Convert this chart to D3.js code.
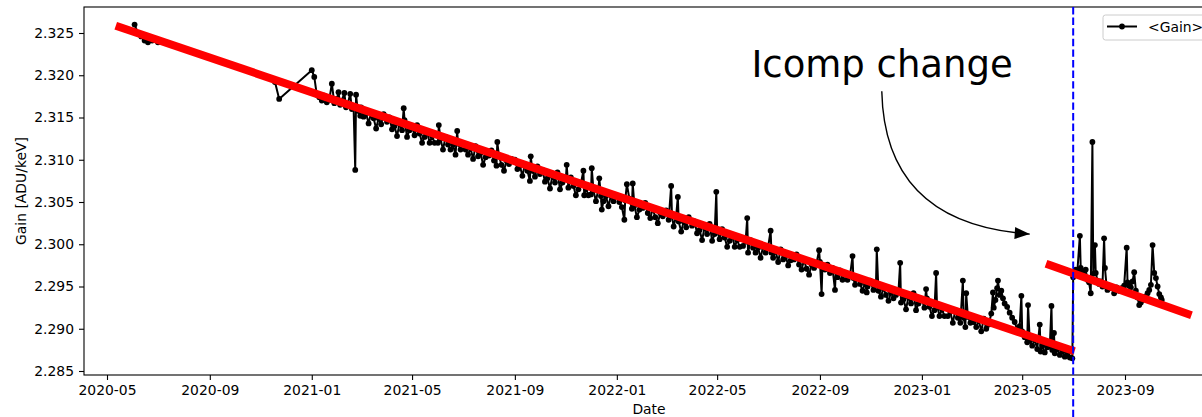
<!DOCTYPE html>
<html>
<head>
<meta charset="utf-8">
<title>Gain vs Date</title>
<script src="https://cdn.jsdelivr.net/npm/d3@7"></script>
<style>
  body { margin: 0; background: #fff; }
  svg text { font-family: "DejaVu Sans", sans-serif; fill: #000; }
</style>
</head>
<body>
<svg width="1202" height="417"></svg>
<script>
// mean gain per day
var gain2020 = [
  ["2020-06-03",2.3260],["2020-06-07",2.3250],["2020-06-11",2.3246],["2020-06-15",2.3241],["2020-06-19",2.3239],["2020-06-24",2.3241],["2020-07-01",2.3239],
  ["2020-11-18",2.3192],["2020-11-23",2.3172]
];
var gain2021 = [
  ["2021-01-01",2.3206],["2021-01-04",2.3198],["2021-01-07",2.3177],["2021-01-10",2.3174],["2021-01-13",2.3170],["2021-01-16",2.3176],["2021-01-19",2.3168],["2021-01-22",2.3171],["2021-01-25",2.3190],["2021-01-28",2.3167],["2021-01-31",2.3172],
  ["2021-02-02",2.3180],["2021-02-04",2.3165],["2021-02-06",2.3170],["2021-02-09",2.3179],["2021-02-11",2.3162],["2021-02-13",2.3166],["2021-02-16",2.3178],["2021-02-18",2.3160],["2021-02-20",2.3163],["2021-02-22",2.3088],["2021-02-23",2.3177],["2021-02-25",2.3158],["2021-02-28",2.3152],
  ["2021-03-01",2.3162],["2021-03-04",2.3151],["2021-03-07",2.3155],["2021-03-10",2.3143],["2021-03-13",2.3156],["2021-03-16",2.3149],["2021-03-19",2.3137],["2021-03-22",2.3149],["2021-03-25",2.3142],["2021-03-28",2.3154],
  ["2021-04-01",2.3145],["2021-04-04",2.3150],["2021-04-07",2.3136],["2021-04-10",2.3140],["2021-04-13",2.3128],["2021-04-16",2.3143],["2021-04-19",2.3135],["2021-04-21",2.3161],["2021-04-22",2.3147],["2021-04-25",2.3127],["2021-04-28",2.3135],
  ["2021-05-01",2.3139],["2021-05-04",2.3129],["2021-05-07",2.3141],["2021-05-10",2.3131],["2021-05-13",2.3120],["2021-05-16",2.3127],["2021-05-19",2.3134],["2021-05-22",2.3120],["2021-05-25",2.3128],["2021-05-28",2.3120],
  ["2021-06-01",2.3120],["2021-06-02",2.3141],["2021-06-04",2.3125],["2021-06-07",2.3112],["2021-06-10",2.3127],["2021-06-13",2.3118],["2021-06-16",2.3112],["2021-06-19",2.3118],["2021-06-22",2.3106],["2021-06-24",2.3134],["2021-06-25",2.3119],["2021-06-28",2.3112],
  ["2021-07-01",2.3119],["2021-07-04",2.3112],["2021-07-07",2.3106],["2021-07-10",2.3114],["2021-07-13",2.3101],["2021-07-16",2.3116],["2021-07-19",2.3104],["2021-07-22",2.3108],["2021-07-25",2.3094],["2021-07-28",2.3103],
  ["2021-08-01",2.3105],["2021-08-04",2.3111],["2021-08-07",2.3099],["2021-08-10",2.3093],["2021-08-11",2.3121],["2021-08-13",2.3104],["2021-08-16",2.3094],["2021-08-19",2.3087],["2021-08-22",2.3099],["2021-08-25",2.3095],["2021-08-28",2.3101],
  ["2021-09-01",2.3100],["2021-09-04",2.3089],["2021-09-07",2.3093],["2021-09-10",2.3081],["2021-09-13",2.3094],["2021-09-16",2.3087],["2021-09-19",2.3075],["2021-09-20",2.3104],["2021-09-22",2.3087],["2021-09-25",2.3080],["2021-09-28",2.3092],
  ["2021-10-01",2.3083],["2021-10-04",2.3088],["2021-10-07",2.3074],["2021-10-10",2.3078],["2021-10-13",2.3066],["2021-10-16",2.3081],["2021-10-19",2.3073],["2021-10-22",2.3085],["2021-10-25",2.3065],["2021-10-28",2.3073],
  ["2021-11-01",2.3077],["2021-11-02",2.3094],["2021-11-04",2.3067],["2021-11-07",2.3079],["2021-11-10",2.3069],["2021-11-13",2.3058],["2021-11-16",2.3065],["2021-11-19",2.3072],["2021-11-22",2.3087],["2021-11-23",2.3058],["2021-11-25",2.3066],["2021-11-28",2.3058],
  ["2021-12-01",2.3059],["2021-12-02",2.3090],["2021-12-04",2.3064],["2021-12-07",2.3051],["2021-12-10",2.3066],["2021-12-11",2.3078],["2021-12-13",2.3057],["2021-12-14",2.3041],["2021-12-16",2.3051],["2021-12-19",2.3057],["2021-12-22",2.3045],["2021-12-25",2.3058],["2021-12-28",2.3051]
];
var gain2022 = [
  ["2022-01-01",2.3057],["2022-01-04",2.3050],["2022-01-07",2.3044],["2022-01-10",2.3029],["2022-01-11",2.3052],["2022-01-13",2.3071],["2022-01-16",2.3054],["2022-01-19",2.3042],["2022-01-20",2.3072],["2022-01-22",2.3046],["2022-01-25",2.3032],["2022-01-28",2.3041],
  ["2022-02-01",2.3043],["2022-02-04",2.3049],["2022-02-07",2.3037],["2022-02-10",2.3031],["2022-02-13",2.3042],["2022-02-16",2.3032],["2022-02-19",2.3025],["2022-02-22",2.3037],["2022-02-25",2.3033],["2022-02-28",2.3039],
  ["2022-03-01",2.3040],["2022-03-04",2.3029],["2022-03-07",2.3069],["2022-03-08",2.3033],["2022-03-10",2.3021],["2022-03-13",2.3034],["2022-03-15",2.3056],["2022-03-16",2.3027],["2022-03-19",2.3015],["2022-03-22",2.3027],["2022-03-25",2.3020],["2022-03-28",2.3032],
  ["2022-04-01",2.3022],["2022-04-04",2.3027],["2022-04-07",2.3013],["2022-04-10",2.3017],["2022-04-13",2.3005],["2022-04-16",2.3020],["2022-04-19",2.3012],["2022-04-22",2.3024],["2022-04-25",2.3004],["2022-04-28",2.3012],["2022-04-30",2.3062],
  ["2022-05-01",2.3016],["2022-05-04",2.3006],["2022-05-07",2.3018],["2022-05-10",2.3008],["2022-05-13",2.2997],["2022-05-16",2.3004],["2022-05-19",2.3011],["2022-05-22",2.2997],["2022-05-25",2.3005],["2022-05-28",2.2997],
  ["2022-06-01",2.2998],["2022-06-04",2.3003],["2022-06-06",2.3031],["2022-06-07",2.2990],["2022-06-10",2.3005],["2022-06-13",2.2996],["2022-06-16",2.2990],["2022-06-19",2.2996],["2022-06-22",2.2984],["2022-06-25",2.2997],["2022-06-28",2.2990],
  ["2022-07-01",2.2997],["2022-07-04",2.3016],["2022-07-05",2.2990],["2022-07-07",2.2984],["2022-07-10",2.2992],["2022-07-13",2.2979],["2022-07-16",2.2994],["2022-07-19",2.2982],["2022-07-22",2.2986],["2022-07-25",2.2975],["2022-07-28",2.2981],
  ["2022-08-01",2.2982],["2022-08-04",2.2988],["2022-08-07",2.2976],["2022-08-10",2.2970],["2022-08-13",2.2981],["2022-08-16",2.2971],["2022-08-19",2.2964],["2022-08-22",2.2976],["2022-08-25",2.2972],["2022-08-28",2.2978],["2022-08-31",2.2993],
  ["2022-09-01",2.2979],["2022-09-03",2.2941],["2022-09-04",2.2975],["2022-09-07",2.2970],["2022-09-10",2.2976],["2022-09-13",2.2966],["2022-09-16",2.2972],["2022-09-19",2.2946],["2022-09-20",2.2968],["2022-09-22",2.2961],["2022-09-25",2.2969],["2022-09-28",2.2958],
  ["2022-10-01",2.2965],["2022-10-04",2.2958],["2022-10-07",2.2963],["2022-10-10",2.2986],["2022-10-11",2.2960],["2022-10-13",2.2952],["2022-10-16",2.2961],["2022-10-19",2.2953],["2022-10-22",2.2945],["2022-10-25",2.2955],["2022-10-27",2.2943],["2022-10-28",2.2950],["2022-10-31",2.2957],
  ["2022-11-01",2.2954],["2022-11-04",2.2946],["2022-11-07",2.2951],["2022-11-08",2.2994],["2022-11-10",2.2945],["2022-11-13",2.2938],["2022-11-16",2.2948],["2022-11-19",2.2940],["2022-11-22",2.2933],["2022-11-25",2.2943],["2022-11-28",2.2936],
  ["2022-12-01",2.2940],["2022-12-04",2.2945],["2022-12-06",2.2978],["2022-12-07",2.2931],["2022-12-10",2.2935],["2022-12-13",2.2923],["2022-12-16",2.2938],["2022-12-19",2.2930],["2022-12-22",2.2942],["2022-12-25",2.2922],["2022-12-28",2.2930]
];
var gain2023 = [
  ["2023-01-01",2.2934],["2023-01-04",2.2925],["2023-01-06",2.2947],["2023-01-07",2.2936],["2023-01-10",2.2926],["2023-01-13",2.2915],["2023-01-16",2.2922],["2023-01-18",2.2966],["2023-01-19",2.2929],["2023-01-22",2.2915],["2023-01-25",2.2923],["2023-01-28",2.2915],
  ["2023-02-01",2.2915],["2023-02-04",2.2920],["2023-02-07",2.2907],["2023-02-10",2.2922],["2023-02-13",2.2913],["2023-02-16",2.2907],["2023-02-19",2.2957],["2023-02-20",2.2913],["2023-02-22",2.2902],["2023-02-23",2.2942],["2023-02-25",2.2914],["2023-02-28",2.2907],
  ["2023-03-01",2.2915],["2023-03-04",2.2908],["2023-03-07",2.2902],["2023-03-10",2.2910],["2023-03-13",2.2897],["2023-03-16",2.2912],["2023-03-19",2.2900],["2023-03-22",2.2905],["2023-03-25",2.2918],["2023-03-27",2.2943],["2023-03-28",2.2925],["2023-03-30",2.2934],
  ["2023-04-01",2.2948],["2023-04-02",2.2957],["2023-04-04",2.2940],["2023-04-06",2.2945],["2023-04-08",2.2936],["2023-04-10",2.2930],["2023-04-13",2.2926],["2023-04-16",2.2919],["2023-04-19",2.2913],["2023-04-22",2.2908],["2023-04-25",2.2899],["2023-04-28",2.2903],["2023-04-30",2.2939],
  ["2023-05-01",2.2897],["2023-05-04",2.2890],["2023-05-07",2.2884],["2023-05-08",2.2928],["2023-05-10",2.2886],["2023-05-13",2.2880],["2023-05-16",2.2887],["2023-05-19",2.2876],["2023-05-22",2.2905],["2023-05-23",2.2873],["2023-05-25",2.2880],["2023-05-28",2.2872],["2023-05-31",2.2878],
  ["2023-06-03",2.2879],["2023-06-05",2.2927],["2023-06-06",2.2875],["2023-06-08",2.2895],["2023-06-09",2.2871],["2023-06-12",2.2876],["2023-06-15",2.2869],["2023-06-18",2.2873],["2023-06-21",2.2867],["2023-06-24",2.2870],["2023-06-27",2.2866],["2023-06-30",2.2865],
  // after the Icomp change
  ["2023-07-01",2.2961],["2023-07-02",2.2966],["2023-07-04",2.2970],["2023-07-06",2.2968],["2023-07-09",2.3010],["2023-07-10",2.2972],["2023-07-12",2.2967],["2023-07-14",2.2964],["2023-07-16",2.2970],["2023-07-18",2.2958],["2023-07-20",2.2955],["2023-07-22",2.2942],["2023-07-24",2.3121],["2023-07-25",2.2965],["2023-07-27",2.2999],["2023-07-28",2.2966],["2023-07-30",2.2957],
  ["2023-08-01",2.2953],["2023-08-03",2.2956],["2023-08-05",2.2950],["2023-08-07",2.3007],["2023-08-08",2.2972],["2023-08-10",2.2950],["2023-08-11",2.2946],["2023-08-13",2.2951],["2023-08-16",2.2948],["2023-08-19",2.2942],["2023-08-22",2.2949],["2023-08-25",2.2945],["2023-08-28",2.2948],["2023-08-31",2.2951],
  ["2023-09-03",2.2996],["2023-09-04",2.2955],["2023-09-06",2.2951],["2023-09-08",2.2949],["2023-09-10",2.2956],["2023-09-12",2.2967],["2023-09-14",2.2945],["2023-09-16",2.2937],["2023-09-18",2.2928],["2023-09-20",2.2931],["2023-09-22",2.2934],["2023-09-25",2.2938],["2023-09-28",2.2942],["2023-09-30",2.2946],
  ["2023-10-02",2.2952],["2023-10-04",2.2999],["2023-10-06",2.2966],["2023-10-08",2.2960],["2023-10-10",2.2950],["2023-10-12",2.2941],["2023-10-14",2.2937],["2023-10-15",2.2934]
];

// linear fits before / after the Icomp change (end points)
var fitBefore = [["2020-05-16",2.32571],["2023-06-28",2.28749]];
var fitAfter  = [["2023-06-03",2.29754],["2023-11-15",2.29175]];
var changeDate = "2023-07-01";

var xTicks = ["2020-05-01","2020-09-01","2021-01-01","2021-05-01","2021-09-01","2022-01-01",
              "2022-05-01","2022-09-01","2023-01-01","2023-05-01","2023-09-01"];
var yTicks = [2.285,2.290,2.295,2.300,2.305,2.310,2.315,2.320,2.325];

var noteText = "Icomp change";
var noteAt = ["2022-06-11",2.31980];
var noteFrom = ["2022-11-14",2.31810];
var noteTo = ["2023-05-10",2.30120];

var gainSeries = gain2020.concat(gain2021, gain2022, gain2023);

var parse = d3.utcParse("%Y-%m-%d");
var svg = d3.select("svg");
var box = {left:84, top:7, right:1214, bottom:375};

// x calibrated on the tick positions, then stretched to the axes box
var x = d3.scaleUtc()
  .domain([parse("2020-05-01"), parse("2023-09-01")])
  .range([107, 1125]);
x.domain([x.invert(box.left), x.invert(box.right)]).range([box.left, box.right]);

var y = d3.scaleLinear().domain([2.285, 2.325]).range([371, 33]);

var fs = "13.9px";

// axes
var gx = svg.append("g").attr("transform","translate(0,"+box.bottom+")")
  .call(d3.axisBottom(x).tickValues(xTicks.map(parse))
    .tickFormat(d3.utcFormat("%Y-%m")).tickSize(5).tickPadding(5).tickSizeOuter(0));
var gy = svg.append("g").attr("transform","translate("+box.left+",0)")
  .call(d3.axisLeft(y).tickValues(yTicks).tickFormat(d3.format(".3f"))
    .tickSize(5).tickPadding(5).tickSizeOuter(0));
[gx, gy].forEach(function(g){
  g.select(".domain").remove();
  g.selectAll("text").style("font-size", fs).style("font-family","DejaVu Sans");
  g.selectAll("line").attr("stroke","#000").attr("stroke-width",1.1);
});

// frame
svg.append("rect")
  .attr("x",box.left).attr("y",box.top)
  .attr("width",box.right-box.left).attr("height",box.bottom-box.top)
  .attr("fill","none").attr("stroke","#000").attr("stroke-width",1.1);

var plot = svg.append("g");

// data line + markers
var line = d3.line()
  .x(function(d){ return x(parse(d[0])); })
  .y(function(d){ return y(d[1]); });

plot.append("path")
  .datum(gainSeries)
  .attr("d", line)
  .attr("fill","none").attr("stroke","#000").attr("stroke-width",2)
  .attr("stroke-linejoin","round");

plot.selectAll("circle.pt")
  .data(gainSeries)
  .enter().append("circle")
  .attr("class","pt")
  .attr("cx",function(d){ return x(parse(d[0])); })
  .attr("cy",function(d){ return y(d[1]); })
  .attr("r",2.9)
  .attr("fill","#000");

// fit lines
[fitBefore, fitAfter].forEach(function(f){
  plot.append("path")
    .datum(f)
    .attr("d", line)
    .attr("stroke","#ff0000").attr("stroke-width",8)
    .attr("stroke-linecap","square").attr("fill","none");
});

// change marker
svg.append("line")
  .attr("x1",x(parse(changeDate))).attr("x2",x(parse(changeDate)))
  .attr("y1",box.top).attr("y2",417)
  .attr("stroke","#0000ff").attr("stroke-width",2)
  .attr("stroke-dasharray","7.4,3.2");

// annotation
svg.append("defs").append("marker")
  .attr("id","head").attr("markerUnits","userSpaceOnUse")
  .attr("viewBox","-16 -7 17 14").attr("refX",0).attr("refY",0)
  .attr("markerWidth",17).attr("markerHeight",14).attr("orient","auto")
  .append("path").attr("d","M0,0L-15,-6L-15,6Z").attr("fill","#000");

var p0 = [x(parse(noteFrom[0])), y(noteFrom[1])];
var p1 = [x(parse(noteTo[0])), y(noteTo[1])];
var c = [p0[0] + 0.02*(p1[0]-p0[0]), p0[1] + 0.93*(p1[1]-p0[1])];
svg.append("path")
  .attr("d","M"+p0[0]+","+p0[1]+"Q"+c[0]+","+c[1]+" "+p1[0]+","+p1[1])
  .attr("fill","none").attr("stroke","#000").attr("stroke-width",1.4)
  .attr("marker-end","url(#head)");

svg.append("text")
  .attr("x",x(parse(noteAt[0]))).attr("y",y(noteAt[1]))
  .style("font-size","37px")
  .text(noteText);

// axis labels
svg.append("text")
  .attr("x",(box.left+box.right)/2).attr("y",414)
  .attr("text-anchor","middle").style("font-size",fs)
  .text("Date");
svg.append("text")
  .attr("transform","translate(26,"+((box.top+box.bottom)/2)+") rotate(-90)")
  .attr("text-anchor","middle").style("font-size",fs)
  .text("Gain [ADU/keV]");

// legend
var lg = svg.append("g").attr("transform","translate(1103,15)");
lg.append("rect").attr("width",110).attr("height",25).attr("rx",2.5)
  .attr("fill","#fff").attr("fill-opacity",0.8).attr("stroke","#cccccc");
lg.append("line").attr("x1",4).attr("x2",34).attr("y1",11.5).attr("y2",11.5)
  .attr("stroke","#000").attr("stroke-width",2);
lg.append("circle").attr("cx",19).attr("cy",11.5).attr("r",2.9).attr("fill","#000");
lg.append("text").attr("x",45).attr("y",16.5).style("font-size",fs).text("<Gain>");
</script>
</body>
</html>
